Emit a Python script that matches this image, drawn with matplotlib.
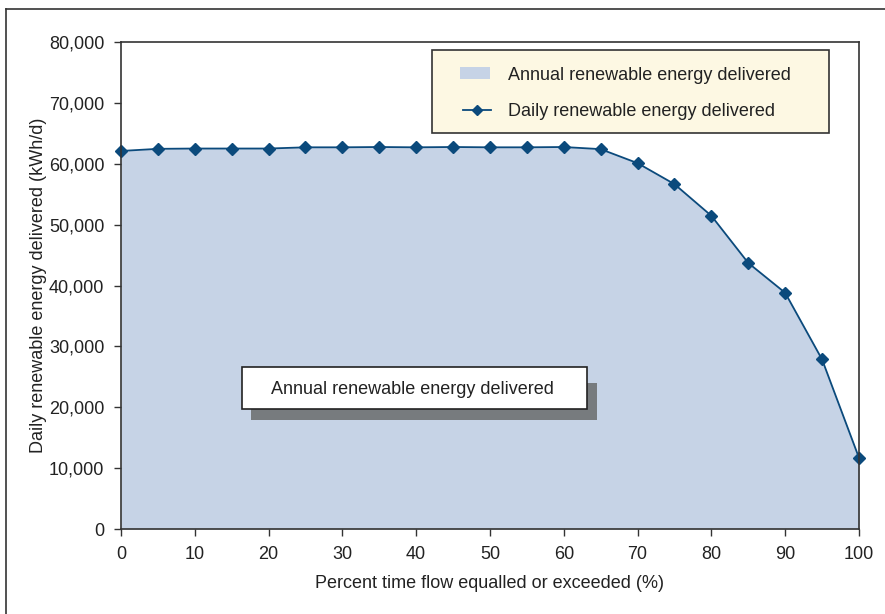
import matplotlib
matplotlib.use("Agg")
import matplotlib.pyplot as plt
from matplotlib.lines import Line2D
from matplotlib.patches import Rectangle
from matplotlib.ticker import FuncFormatter

plt.rcParams["font.family"] = ["Liberation Sans", "DejaVu Sans"]

pct_time = [0, 5, 10, 15, 20, 25, 30, 35, 40, 45, 50,
            55, 60, 65, 70, 75, 80, 85, 90, 95, 100]
daily_kwh = [62100, 62450, 62500, 62500, 62500, 62700, 62700, 62750, 62700, 62750, 62700,
             62700, 62750, 62400, 60100, 56650, 51450, 43700, 38800, 27850, 11700]
legend_labels = ["Annual renewable energy delivered", "Daily renewable energy delivered"]
callout_label = "Annual renewable energy delivered"

line_col = "#0b4a7c"
fill_col = "#c6d3e6"
text_col = "#222222"
fs = 13

fig = plt.figure(figsize=(8.85, 6.14), dpi=100)
ax = fig.add_axes([0.1367, 0.1384, 0.8339, 0.7932])

ax.fill_between(pct_time, daily_kwh, 0, color=fill_col, lw=0, zorder=1)
ax.plot(pct_time, daily_kwh, color=line_col, lw=1.3, marker="D", ms=6.5,
        clip_on=False, zorder=3)

ax.set_xlim(0, 100)
ax.set_ylim(0, 80000)
ax.set_xticks(range(0, 101, 10))
ax.set_yticks(range(0, 80001, 10000))
ax.yaxis.set_major_formatter(FuncFormatter(lambda v, p: f"{int(v):,}"))
ax.tick_params(direction="out", length=5, width=1, color="#333333",
               labelsize=fs, labelcolor=text_col, pad=7)
for s in ax.spines.values():
    s.set_color("#333333")
    s.set_linewidth(1.2)
    s.set_zorder(4)

ax.set_xlabel("Percent time flow equalled or exceeded (%)", fontsize=fs,
              color=text_col, labelpad=9)
ax.set_ylabel("Daily renewable energy delivered (kWh/d)", fontsize=fs,
              color=text_col, labelpad=1)

# legend drawn by hand to match the boxed layout
T = ax.transAxes
ax.add_patch(Rectangle((0.4214, 0.8131), 0.5379, 0.1705, transform=T,
                       facecolor="#fdf8e3", edgecolor="#333333", lw=1.2, zorder=6))
ax.add_patch(Rectangle((0.4593, 0.9240), 0.0407, 0.0247, transform=T,
                       facecolor=fill_col, edgecolor="none", zorder=7))
ax.add_line(Line2D([0.4634, 0.5014], [0.8604, 0.8604], transform=T, color=line_col,
                   lw=1.3, zorder=7))
ax.add_line(Line2D([0.4824], [0.8604], transform=T, color=line_col, marker="D",
                   ms=5.5, zorder=8))
for yy, lab in zip([0.9302, 0.8563], legend_labels):
    ax.text(0.5244, yy, lab, transform=T, ha="left", va="center", fontsize=fs,
            color=text_col, zorder=8)

# callout box with drop shadow
ax.add_patch(Rectangle((0.176, 0.224), 0.469, 0.076, transform=T,
                       facecolor="#777b7e", edgecolor="none", zorder=5))
ax.add_patch(Rectangle((0.164, 0.246), 0.467, 0.087, transform=T,
                       facecolor="white", edgecolor="#222222", lw=1.2, zorder=6))
ax.text(0.3955, 0.2875, callout_label, transform=T,
        ha="center", va="center", fontsize=fs, color=text_col, zorder=7)

# outer frame (left and top edges only visible)
fig.add_artist(Line2D([6 / 885, 6 / 885], [0, 1 - 9 / 614], color="#333333", lw=1.2))
fig.add_artist(Line2D([6 / 885, 1], [1 - 9 / 614, 1 - 9 / 614], color="#333333", lw=1.2))

fig.savefig("out.png", dpi=100)
